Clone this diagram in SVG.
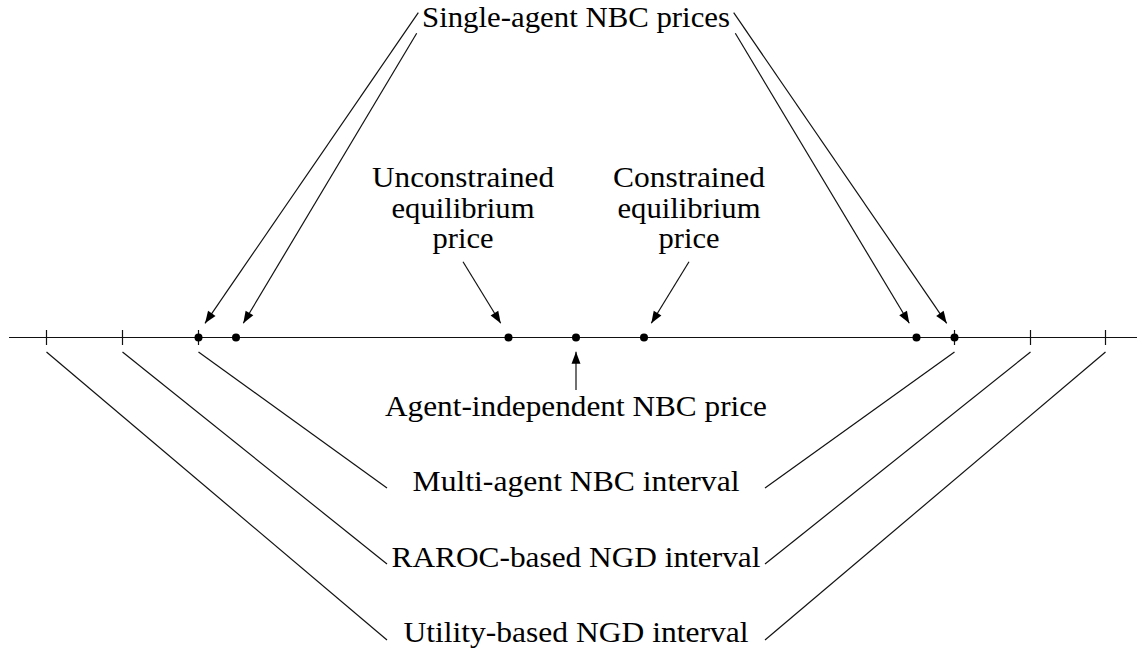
<svg xmlns="http://www.w3.org/2000/svg" width="1137" height="650" viewBox="0 0 1137 650">
<style>
  .t { font-family: "Liberation Serif", "Times New Roman", serif; font-size: 28.5px; fill: #000; text-anchor: middle; }
  .ln { stroke: #111; stroke-width: 1.2; fill: none; }
  .ar { stroke: #111; stroke-width: 1.2; fill: none; marker-end: url(#ah); }
  .dot { fill: #000; }
</style>
<defs>
  <marker id="ah" markerUnits="userSpaceOnUse" markerWidth="14" markerHeight="12" refX="12" refY="5" orient="auto" overflow="visible">
    <path d="M0,0.5 L12,5 L0,9.5 Z" fill="#000"/>
  </marker>
</defs>
<rect width="1137" height="650" fill="#fff"/>

<g id="axis">
  <line class="ln" x1="9" y1="337.5" x2="1137" y2="337.5"/>
  <line class="ln" x1="46.5" y1="330" x2="46.5" y2="345"/>
  <line class="ln" x1="122.5" y1="330" x2="122.5" y2="345"/>
  <line class="ln" x1="198.5" y1="330" x2="198.5" y2="345"/>
  <line class="ln" x1="954.5" y1="330" x2="954.5" y2="345"/>
  <line class="ln" x1="1030.5" y1="330" x2="1030.5" y2="345"/>
  <line class="ln" x1="1105.5" y1="330" x2="1105.5" y2="345"/>
</g>

<g id="points">
  <circle class="dot" cx="198.5" cy="337.5" r="4"/>
  <circle class="dot" cx="236" cy="337.5" r="4"/>
  <circle class="dot" cx="508.5" cy="337.5" r="4"/>
  <circle class="dot" cx="576" cy="337.5" r="4"/>
  <circle class="dot" cx="644" cy="337.5" r="4"/>
  <circle class="dot" cx="916.5" cy="337.5" r="4"/>
  <circle class="dot" cx="954.5" cy="337.5" r="4"/>
</g>

<g id="single-agent">
  <text class="t" x="576" y="26.5" textLength="308" lengthAdjust="spacingAndGlyphs">Single-agent NBC prices</text>
</g>

<g id="unconstrained">
  <text class="t" x="463" y="187" textLength="182" lengthAdjust="spacingAndGlyphs">Unconstrained</text>
  <text class="t" x="463" y="217.5" textLength="143" lengthAdjust="spacingAndGlyphs">equilibrium</text>
  <text class="t" x="463" y="248" textLength="61" lengthAdjust="spacingAndGlyphs">price</text>
</g>

<g id="constrained">
  <text class="t" x="689" y="187" textLength="152" lengthAdjust="spacingAndGlyphs">Constrained</text>
  <text class="t" x="689" y="217.5" textLength="143" lengthAdjust="spacingAndGlyphs">equilibrium</text>
  <text class="t" x="689" y="248" textLength="61" lengthAdjust="spacingAndGlyphs">price</text>
</g>

<g id="agent-independent">
  <text class="t" x="576" y="416" textLength="382" lengthAdjust="spacingAndGlyphs">Agent-independent NBC price</text>
</g>

<g id="multi-agent">
  <text class="t" x="576" y="491" textLength="327" lengthAdjust="spacingAndGlyphs">Multi-agent NBC interval</text>
</g>

<g id="raroc">
  <text class="t" x="576" y="566.5" textLength="369" lengthAdjust="spacingAndGlyphs">RAROC-based NGD interval</text>
</g>

<g id="utility">
  <text class="t" x="576" y="642" textLength="345" lengthAdjust="spacingAndGlyphs">Utility-based NGD interval</text>
</g>

<g id="connectors">
  <line class="ar" x1="418.3" y1="12.7" x2="205" y2="323.3"/>
  <line class="ar" x1="416.7" y1="33.3" x2="243.3" y2="323.3"/>
  <line class="ar" x1="733.7" y1="12.7" x2="946.7" y2="323.3"/>
  <line class="ar" x1="735.3" y1="33.3" x2="909.3" y2="323.3"/>
  <line class="ar" x1="463" y1="261.7" x2="500.7" y2="323.3"/>
  <line class="ar" x1="689" y1="261.7" x2="651.3" y2="323.3"/>
  <line class="ar" x1="576" y1="390" x2="576" y2="351.7"/>
  <line class="ln" x1="198.5" y1="352" x2="387" y2="488"/>
  <line class="ln" x1="122.5" y1="352" x2="387" y2="564"/>
  <line class="ln" x1="46.5" y1="352" x2="387" y2="640"/>
  <line class="ln" x1="954.5" y1="352" x2="765" y2="488"/>
  <line class="ln" x1="1030.5" y1="352" x2="765" y2="564"/>
  <line class="ln" x1="1105.5" y1="352" x2="765" y2="640"/>
</g>
</svg>
